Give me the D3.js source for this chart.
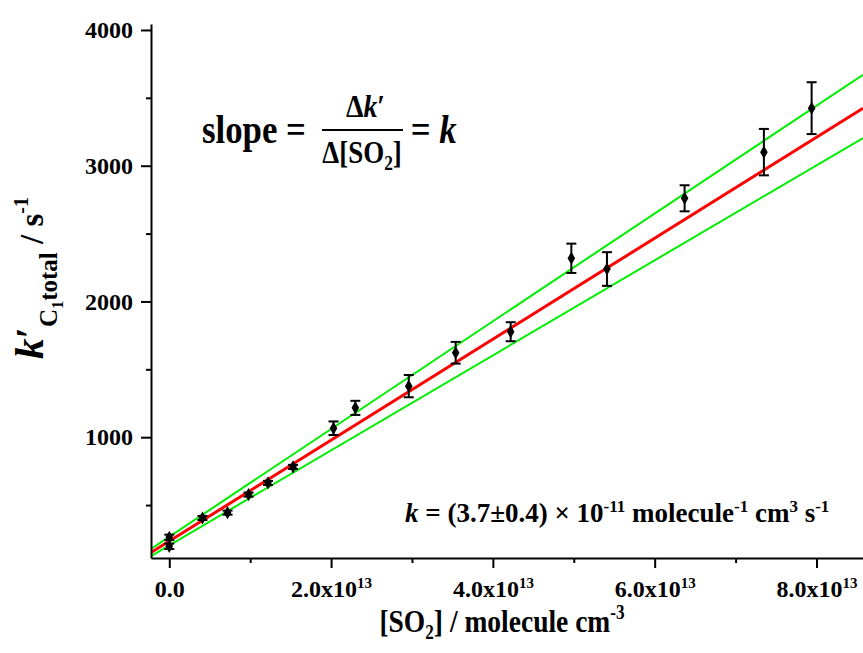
<!DOCTYPE html>
<html>
<head>
<meta charset="utf-8">
<script src="https://cdn.jsdelivr.net/npm/d3@7"></script>
<style>
    html, body { margin: 0; padding: 0; background: #fff; }
    svg { display: block; }
    svg text { font-family: "Liberation Serif", "Times New Roman", serif; font-weight: bold; fill: #000; }
</style>
</head>
<body>
<script>
// data
const so2 = [0, 0, 0.41e13, 0.72e13, 0.98e13, 1.22e13, 1.53e13, 2.03e13, 2.30e13, 2.96e13, 3.54e13, 4.22e13, 4.97e13, 5.41e13, 6.37e13, 7.35e13, 7.94e13];
const kTotal = [262, 196, 405, 444, 577, 663, 781, 1066, 1216, 1376, 1622, 1777, 2318, 2239, 2760, 3100, 3424];
const kErr = [20, 20, 15, 15, 15, 15, 15, 50, 52, 82, 80, 70, 108, 124, 96, 171, 191];

// fit line and the two bounding lines
const lineNames = ["upper", "lower", "fit"];
const lineIntercepts = [266, 203, 234];
const lineSlopes = [3.97e-11, 3.50e-11, 3.72e-11];
const lineColors = ["#00ee00", "#00ee00", "#ff0000"];

const yMajor = [1000, 2000, 3000, 4000];
const yMinor = [500, 1500, 2500, 3500];
const xMajor = [0, 2e13, 4e13, 6e13, 8e13];
const xMinor = [1e13, 3e13, 5e13, 7e13];
const xTickMantissa = ["0.0", "2.0x10", "4.0x10", "6.0x10", "8.0x10"];
const xTickExp = ["", "13", "13", "13", "13"];

const width = 863;
const height = 653;

const x = d3.scaleLinear().domain([-0.226e13, 8.575e13]).range([151, 863]);
const y = d3.scaleLinear().domain([110, 4044]).range([558, 24]);

const svg = d3.select("body").append("svg")
    .attr("width", width)
    .attr("height", height);

// appends tspans; each part has t, dy (offset from baseline), size, italic
function addParts(text, parts) {
    let shift = 0;
    parts.forEach(p => {
        const target = p.dy || 0;
        const ts = text.append("tspan").attr("dy", target - shift).text(p.t);
        shift = target;
        if (p.size) ts.style("font-size", p.size + "px");
        if (p.italic) ts.style("font-style", "italic");
    });
}

// LINES
const plot = svg.append("g");
plot.append("clipPath").attr("id", "clip")
    .append("rect").attr("x", 151).attr("y", 0).attr("width", 712).attr("height", 558);

const [x0, x1] = x.domain();
plot.selectAll("line.fit")
    .data(lineNames)
    .enter()
    .append("line")
    .attr("class", "fit")
    .attr("clip-path", "url(#clip)")
    .attr("x1", x(x0))
    .attr("x2", x(x1))
    .attr("y1", (d, i) => y(lineIntercepts[i] + lineSlopes[i] * x0))
    .attr("y2", (d, i) => y(lineIntercepts[i] + lineSlopes[i] * x1))
    .attr("stroke", (d, i) => lineColors[i])
    .attr("stroke-width", (d, i) => d == "fit" ? 3 : 2);

// ERROR BARS + POINTS
const idx = d3.range(so2.length);
const bars = plot.selectAll("g.err").data(idx).enter().append("g").attr("class", "err")
    .attr("stroke", "#000").attr("stroke-width", 2);
bars.append("line")
    .attr("x1", i => x(so2[i])).attr("x2", i => x(so2[i]))
    .attr("y1", i => y(kTotal[i] - kErr[i])).attr("y2", i => y(kTotal[i] + kErr[i]));
bars.append("line")
    .attr("x1", i => x(so2[i]) - 5).attr("x2", i => x(so2[i]) + 5)
    .attr("y1", i => y(kTotal[i] - kErr[i])).attr("y2", i => y(kTotal[i] - kErr[i]));
bars.append("line")
    .attr("x1", i => x(so2[i]) - 5).attr("x2", i => x(so2[i]) + 5)
    .attr("y1", i => y(kTotal[i] + kErr[i])).attr("y2", i => y(kTotal[i] + kErr[i]));

plot.selectAll("path.pt")
    .data(idx)
    .enter()
    .append("path")
    .attr("class", "pt")
    .attr("d", d3.symbol().type(d3.symbolDiamond).size(50))
    .attr("transform", i => `translate(${x(so2[i])},${y(kTotal[i])})`)
    .attr("fill", "#000");

// AXES
const yAxis = svg.append("g").attr("transform", "translate(151,0)")
    .call(d3.axisLeft(y).tickValues(yMajor).tickSize(10).tickPadding(8).tickSizeOuter(0).tickFormat(d3.format("d")));
svg.append("g").attr("transform", "translate(151,0)")
    .call(d3.axisLeft(y).tickValues(yMinor).tickSize(5).tickSizeOuter(0).tickFormat(""))
    .select(".domain").remove();
yAxis.selectAll("text").style("font-size", "24px");

const xAxis = svg.append("g").attr("transform", "translate(0,558)")
    .call(d3.axisBottom(x).tickValues(xMajor).tickSize(10).tickSizeOuter(0).tickFormat(""));
svg.append("g").attr("transform", "translate(0,558)")
    .call(d3.axisBottom(x).tickValues(xMinor).tickSize(5).tickSizeOuter(0).tickFormat(""))
    .select(".domain").remove();

svg.selectAll(".domain, .tick line").attr("stroke", "#000").attr("stroke-width", 2);

xAxis.selectAll(".tick").each(function (d, i) {
    const t = d3.select(this).append("text")
        .attr("y", 39)
        .attr("text-anchor", "middle")
        .style("font-size", "24px");
    const parts = [{ t: xTickMantissa[i] }];
    if (xTickExp[i]) parts.push({ t: xTickExp[i], dy: -9, size: 15 });
    addParts(t, parts);
});

// TITLES (the original font is narrower than Times, so squeeze horizontally)
const xTitle = svg.append("text")
    .attr("transform", "translate(502,632) scale(0.86,1)")
    .attr("text-anchor", "middle")
    .style("font-size", "32px");
addParts(xTitle, [
    { t: "[SO" },
    { t: "2", dy: 7, size: 20 },
    { t: "] / molecule cm" },
    { t: "-3", dy: -13, size: 20 }
]);

const yTitle = svg.append("text")
    .attr("transform", "translate(43,278) rotate(-90)")
    .attr("text-anchor", "middle")
    .style("font-size", "33px");
addParts(yTitle, [
    { t: "k", italic: true, size: 41 },
    { t: "\u2032", size: 41 },
    { t: "C", dy: 14, size: 25 },
    { t: "1", dy: 20, size: 16 },
    { t: "total", dy: 14, size: 25 },
    { t: " / s" },
    { t: "-1", dy: -15, size: 20 }
]);

// SLOPE EQUATION
const eq = svg.append("g").attr("transform", "translate(202,0) scale(0.87,1)");
eq.append("text").attr("x", 0).attr("y", 143).style("font-size", "40px").text("slope =");
eq.append("line").attr("x1", 138).attr("x2", 231).attr("y1", 130).attr("y2", 130)
    .attr("stroke", "#000").attr("stroke-width", 2);
const num = eq.append("text").attr("x", 188).attr("y", 117).attr("text-anchor", "middle").style("font-size", "32px");
addParts(num, [{ t: "\u0394" }, { t: "k", italic: true }, { t: "\u2032" }]);
const den = eq.append("text").attr("x", 184).attr("y", 163).attr("text-anchor", "middle").style("font-size", "31px");
addParts(den, [{ t: "\u0394[SO" }, { t: "2", dy: 7, size: 20 }, { t: "]" }]);
const eqRight = eq.append("text").attr("x", 240).attr("y", 143).style("font-size", "40px");
addParts(eqRight, [{ t: "= " }, { t: "k", italic: true }]);

// RATE CONSTANT NOTE
const note = svg.append("text").attr("x", 405).attr("y", 522).style("font-size", "27px");
addParts(note, [
    { t: "k", italic: true },
    { t: " = (3.7\u00b10.4) \u00d7 10" },
    { t: "-11", dy: -10, size: 17 },
    { t: " molecule" },
    { t: "-1", dy: -10, size: 17 },
    { t: " cm" },
    { t: "3", dy: -10, size: 17 },
    { t: " s" },
    { t: "-1", dy: -10, size: 17 }
]);
</script>
</body>
</html>
